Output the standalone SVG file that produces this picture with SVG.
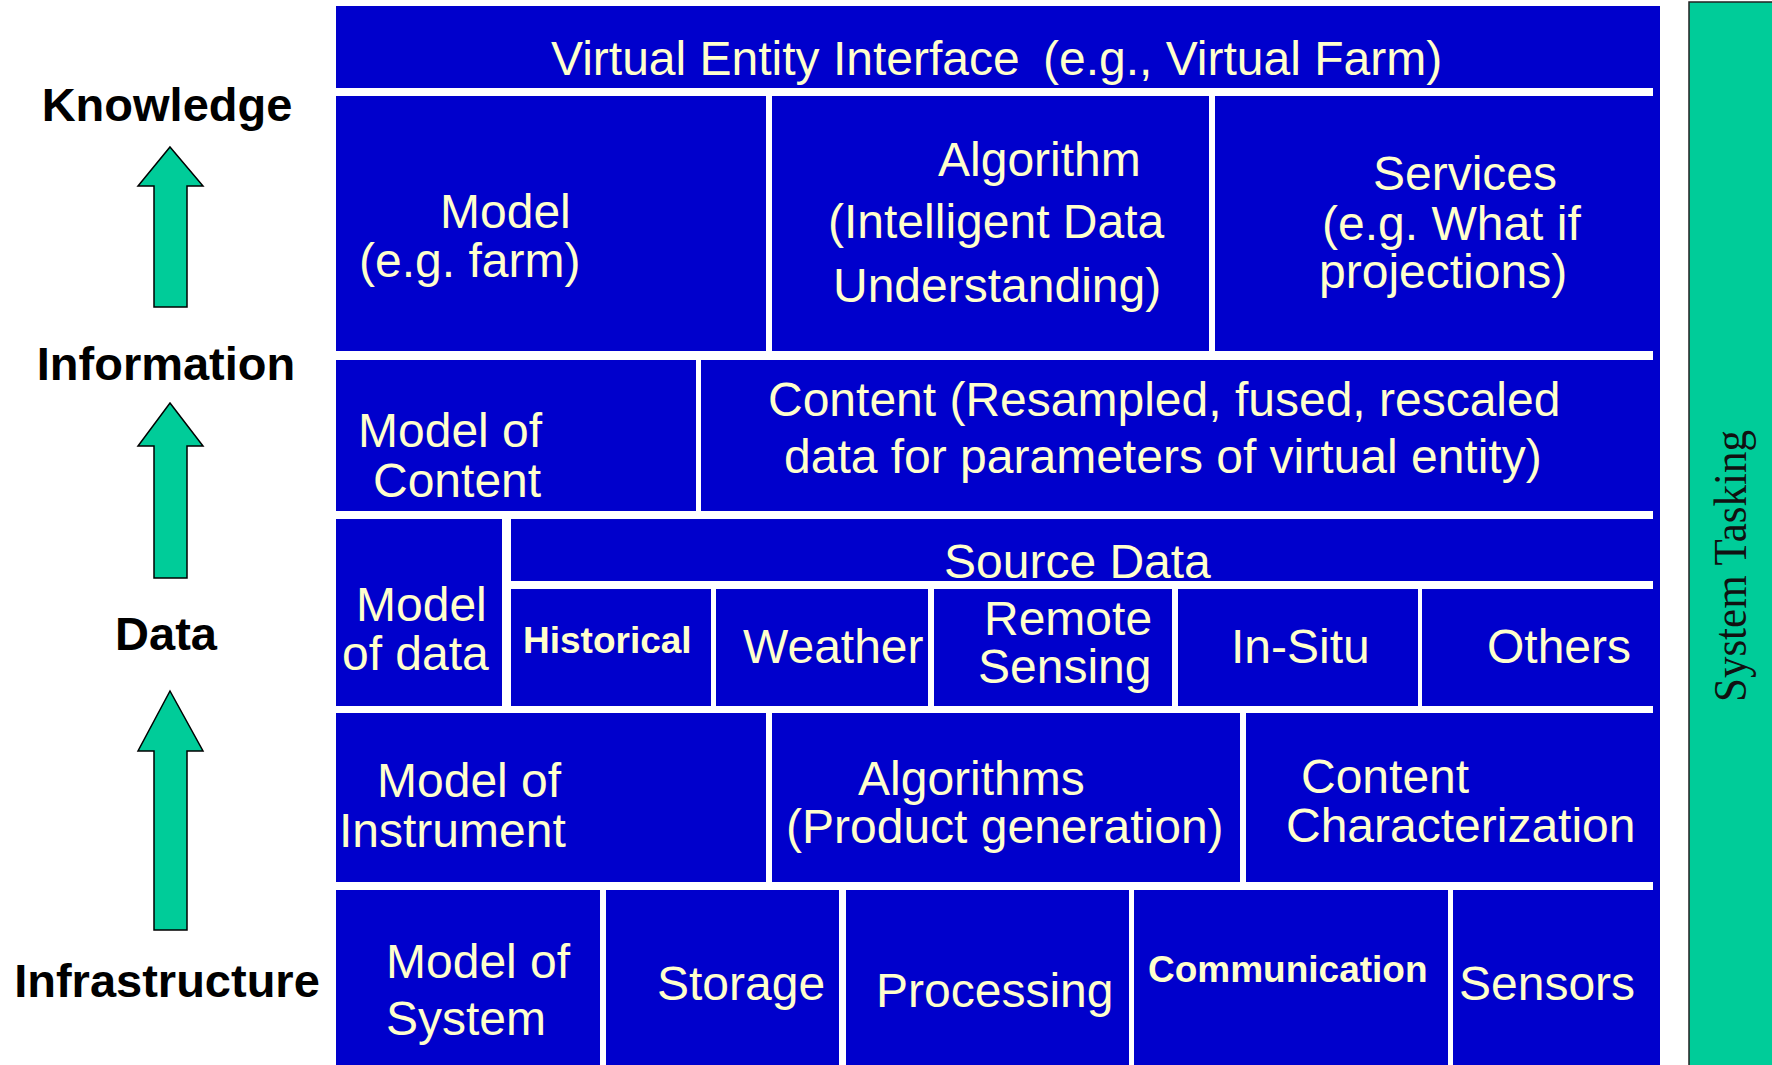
<svg xmlns="http://www.w3.org/2000/svg" width="1772" height="1065" viewBox="0 0 1772 1065">
  <style>
    .cell { fill: #0000CC; }
    .t { font-family: "Liberation Sans", Arial, sans-serif; font-size: 48px; fill: #FFFFCC; }
    .tb { font-weight: bold; font-size: 37px; }
    .lvl { font-family: "Liberation Sans", Arial, sans-serif; font-weight: bold; font-size: 47px; fill: #000000; text-anchor: middle; }
    .arrow { fill: #00CC99; stroke: #000000; stroke-width: 1.5; stroke-linejoin: miter; }
    .bar { fill: #00CC99; stroke: #222222; stroke-width: 1.5; }
    .bartext { font-family: "Liberation Serif", "Times New Roman", serif; font-size: 47px; fill: #111111; text-anchor: middle; }
  </style>

  <rect width="1772" height="1065" fill="#FFFFFF"/>

  <!-- level labels -->
  <g id="level-knowledge"><text class="lvl" x="167" y="121">Knowledge</text></g>
  <g id="level-information"><text class="lvl" x="166" y="380">Information</text></g>
  <g id="level-data"><text class="lvl" x="166" y="650">Data</text></g>
  <g id="level-infrastructure"><text class="lvl" x="167" y="997">Infrastructure</text></g>

  <!-- upward arrows between levels -->
  <g id="connectors">
    <polygon class="arrow" points="170,147 203,186 187,186 187,307 154,307 154,186 138,186"/>
    <polygon class="arrow" points="170,403 203,446 187,446 187,578 154,578 154,446 138,446"/>
    <polygon class="arrow" points="170,691 203,751 187,751 187,930 154,930 154,751 138,751"/>
  </g>

  <!-- right edge of the stack -->
  <rect class="cell" x="1653" y="6" width="7" height="1059"/>

  <!-- layer 1 -->
  <g id="virtual-entity-interface">
    <rect class="cell" x="336" y="6" width="1324" height="82"/>
    <text class="t" x="551" y="75">Virtual Entity Interface</text>
    <text class="t" x="1043" y="75">(e.g., Virtual Farm)</text>
  </g>

  <!-- layer 2 -->
  <g id="model-farm">
    <rect class="cell" x="336" y="96" width="430" height="255"/>
    <text class="t" x="440" y="228">Model</text>
    <text class="t" x="359" y="277">(e.g. farm)</text>
  </g>
  <g id="algorithm">
    <rect class="cell" x="772" y="96" width="437" height="255"/>
    <text class="t" x="938" y="176">Algorithm</text>
    <text class="t" x="828" y="238">(Intelligent Data</text>
    <text class="t" x="833" y="302">Understanding)</text>
  </g>
  <g id="services">
    <rect class="cell" x="1215" y="96" width="445" height="255"/>
    <text class="t" x="1373" y="190">Services</text>
    <text class="t" x="1322" y="240">(e.g. What if</text>
    <text class="t" x="1319" y="288">projections)</text>
  </g>

  <!-- layer 3 -->
  <g id="model-of-content">
    <rect class="cell" x="336" y="360" width="360" height="151"/>
    <text class="t" x="358" y="447">Model of</text>
    <text class="t" x="373" y="497">Content</text>
  </g>
  <g id="content">
    <rect class="cell" x="701" y="360" width="959" height="151"/>
    <text class="t" x="768" y="416">Content (Resampled, fused, rescaled</text>
    <text class="t" x="784" y="473">data for parameters of virtual entity)</text>
  </g>

  <!-- layer 4 -->
  <g id="model-of-data">
    <rect class="cell" x="336" y="519" width="166" height="187"/>
    <text class="t" x="356" y="621">Model</text>
    <text class="t" x="342" y="670">of data</text>
  </g>
  <g id="source-data">
    <rect class="cell" x="511" y="519" width="1149" height="62"/>
    <text class="t" x="944" y="578">Source Data</text>
  </g>
  <g id="historical">
    <rect class="cell" x="511" y="589" width="200" height="117"/>
    <text class="t tb" x="523" y="653">Historical</text>
  </g>
  <g id="weather">
    <rect class="cell" x="716" y="589" width="212" height="117"/>
    <text class="t" x="743" y="663">Weather</text>
  </g>
  <g id="remote-sensing">
    <rect class="cell" x="934" y="589" width="238" height="117"/>
    <text class="t" x="984" y="635">Remote</text>
    <text class="t" x="978" y="683">Sensing</text>
  </g>
  <g id="in-situ">
    <rect class="cell" x="1178" y="589" width="240" height="117"/>
    <text class="t" x="1231" y="663">In-Situ</text>
  </g>
  <g id="others">
    <rect class="cell" x="1422" y="589" width="238" height="117"/>
    <text class="t" x="1487" y="663">Others</text>
  </g>

  <!-- layer 5 -->
  <g id="model-of-instrument">
    <rect class="cell" x="336" y="713" width="430" height="169"/>
    <text class="t" x="377" y="797">Model of</text>
    <text class="t" x="339" y="847">Instrument</text>
  </g>
  <g id="algorithms">
    <rect class="cell" x="772" y="713" width="468" height="169"/>
    <text class="t" x="858" y="795">Algorithms</text>
    <text class="t" x="786" y="843">(Product generation)</text>
  </g>
  <g id="content-characterization">
    <rect class="cell" x="1246" y="713" width="414" height="169"/>
    <text class="t" x="1301" y="793">Content</text>
    <text class="t" x="1286" y="842">Characterization</text>
  </g>

  <!-- layer 6 -->
  <g id="model-of-system">
    <rect class="cell" x="336" y="890" width="264" height="175"/>
    <text class="t" x="386" y="978">Model of</text>
    <text class="t" x="386" y="1035">System</text>
  </g>
  <g id="storage">
    <rect class="cell" x="606" y="890" width="233" height="175"/>
    <text class="t" x="657" y="1000">Storage</text>
  </g>
  <g id="processing">
    <rect class="cell" x="846" y="890" width="283" height="175"/>
    <text class="t" x="876" y="1007">Processing</text>
  </g>
  <g id="communication">
    <rect class="cell" x="1134" y="890" width="314" height="175"/>
    <text class="t tb" x="1148" y="982">Communication</text>
  </g>
  <g id="sensors">
    <rect class="cell" x="1453" y="890" width="207" height="175"/>
    <text class="t" x="1459" y="1000">Sensors</text>
  </g>

  <!-- side bar -->
  <g id="system-tasking">
    <rect class="bar" x="1689" y="2" width="90" height="1070"/>
    <text class="bartext" transform="translate(1746,566) rotate(-90)" textLength="272" lengthAdjust="spacingAndGlyphs">System Tasking</text>
  </g>
</svg>
